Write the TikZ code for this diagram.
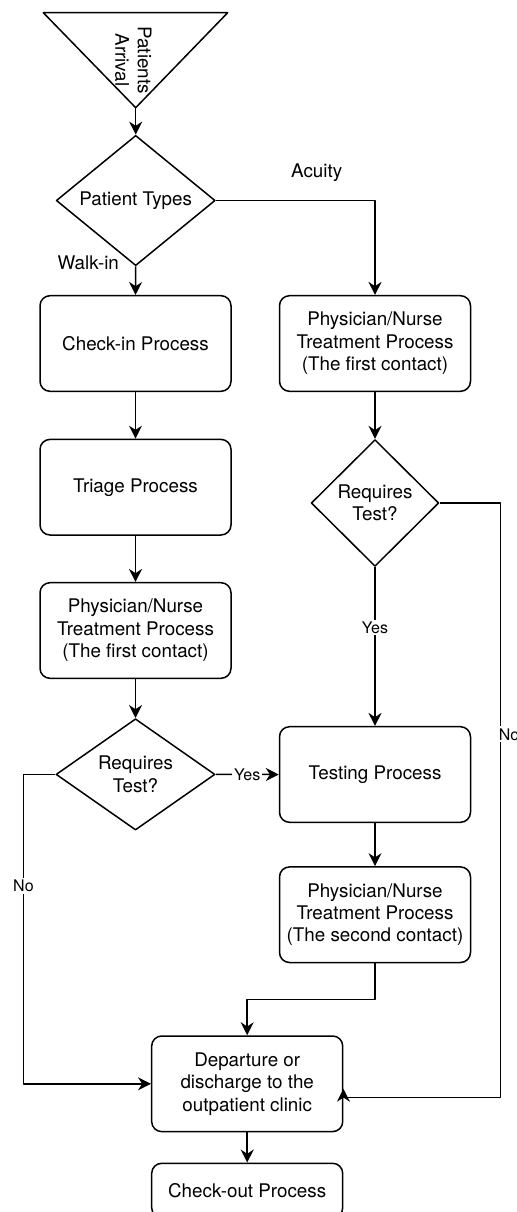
\documentclass[tikz,border=0pt]{standalone}
\usepackage{fontspec}
\setmainfont{TeX Gyre Heros}
\usetikzlibrary{shapes.geometric,arrows.meta,calc}

\newcommand{\bodyfont}{\fontsize{9.4pt}{11.2pt}\selectfont}
\newcommand{\edgefont}{\fontsize{8pt}{9.6pt}\selectfont}

\tikzset{
  procbox/.style={draw, rounded corners=5pt, minimum width=95.5pt, minimum height=47.8pt,
    align=center, inner sep=2pt, font=\bodyfont},
  decision/.style={draw, diamond, inner sep=0pt, align=center, font=\bodyfont},
  flow/.style={-{Stealth[length=6.5pt,width=6.5pt]}},
  edgelbl/.style={fill=white, inner sep=1pt, font=\edgefont},
  sidelbl/.style={inner sep=1pt, font=\bodyfont},
}

\begin{document}
\begin{tikzpicture}[x=0.5pt, y=-0.5pt, line width=0.75pt, line join=round]
    \useasboundingbox (0,0) rectangle (517,1212);

    % arrival
    \coordinate (tl) at (43.3,12.7);
    \coordinate (tr) at (227.7,12.7);
    \coordinate (tip) at (135.7,107.7);
    \draw (tl) -- (tr) -- (tip) -- cycle;
    \node[rotate=-90, align=center, font=\bodyfont] (arrtxt) at (133.3,60) {Patients\\Arrival};

    \node[decision, minimum width=79.5pt, minimum height=47.3pt] (ptype) at (135.7,200.5) {Patient Types};

    % walk-in branch
    \node[procbox] (chkin) at (135.5,343.5) {Check-in Process};
    \node[procbox] (triage) at (135.5,487.2) {Triage Process};
    \node[procbox] (phys2) at (135.5,630.5) {Physician/Nurse\\Treatment Process\\(The first contact)};
    \node[decision, minimum width=79.5pt, minimum height=47.6pt] (req1) at (135.5,774.4) {Requires\\Test?};

    % acuity branch
    \node[procbox] (phys1) at (375,343.5) {Physician/Nurse\\Treatment Process\\(The first contact)};
    \node[decision, minimum width=63.8pt, minimum height=63.4pt] (req2) at (375,503) {Requires\\Test?};
    \node[procbox] (test) at (375,774.5) {Testing Process};
    \node[procbox] (phys3) at (375,914.7) {Physician/Nurse\\Treatment Process\\(The second contact)};

    % exit
    \node[procbox] (depart) at (247.2,1083.8) {Departure or\\discharge to the\\outpatient clinic};
    \node[procbox, minimum height=27.2pt] (chkout) at (247.2,1190.5) {Check-out Process};

    \node[sidelbl] (acuity) at (316.7,172.3) {Acuity};
    \node[sidelbl] (walkin) at (88.3,262.7) {Walk-in};

    \draw[flow] (tip) -- (ptype.north);
    \draw[flow] (ptype.east) -| (phys1.north);
    \draw[flow] (ptype.south) -- (chkin.north);
    \draw[flow] (chkin) -- (triage);
    \draw[flow] (triage) -- (phys2);
    \draw[flow] (phys2) -- (req1);
    \draw[flow] (phys1) -- (req2);
    \draw[flow] (req2) -- node[edgelbl, pos=0.38] {Yes} (test);
    \draw[flow] (req1.east) -- node[edgelbl] {Yes} (test.west);
    \draw[flow] (test) -- (phys3);
    \draw[flow] (phys3.south) -- ++(0,36.3) -| (depart.north);
    \draw[flow] (req1.west) -- ++(-31.8,0) |- node[edgelbl, pos=0.18] {No} (depart.west);
    \coordinate (rcorner) at (500.7,1097.7);
    \draw[flow] (req2.east) -| (rcorner) -- (depart.east |- rcorner) -- ++(0,-9);
    \node[edgelbl] (noright) at (509,734.3) {No};
    \draw[flow] (depart) -- (chkout);
\end{tikzpicture}
\end{document}
